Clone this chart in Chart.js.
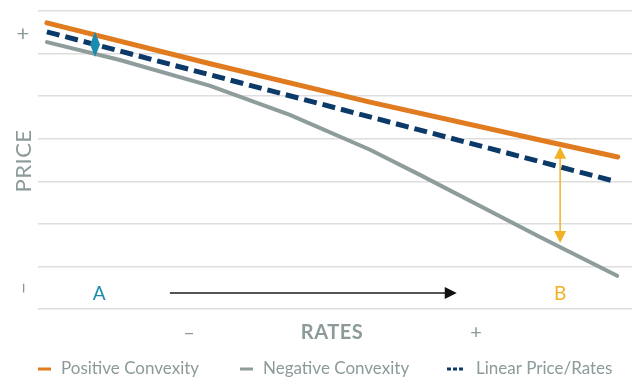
<!DOCTYPE html>
<html>
<head>
<meta charset="utf-8">
<script src="https://cdn.jsdelivr.net/npm/chart.js@4"></script>
<style>
  html, body { margin: 0; padding: 0; background: #fff; }
  #wrap { width: 632px; height: 381px; }
</style>
</head>
<body>
<div id="wrap"><canvas id="convexityChart" width="632" height="381"></canvas></div>
<script>
// rates on a 0-100 scale, price on a 0-7 scale (one unit per grid line)
const positiveX = [1.5, 29, 55.9, 84.5, 97.6];
const positiveY = [6.72, 5.76, 4.86, 3.97, 3.57];
const linearX = [1.5, 96.8];
const linearY = [6.51, 3.01];
const negativeX = [1.5, 13.8, 29, 42.4, 55.9, 64.3, 84.5, 97.5];
const negativeY = [6.27, 5.85, 5.24, 4.56, 3.74, 3.15, 1.69, 0.78];

const seriesNames = ['Positive Convexity', 'Negative Convexity', 'Linear Price/Rates'];
const priceTicks = ['+', '–'];
const rateTicks = ['–', 'RATES', '+'];

// arrow A: x, top, bottom ; arrow B same ; rate arrow: from, to, y
const markerA = [9.6, 6.51, 5.92];
const markerB = [87.9, 3.81, 1.55];
const rateArrow = [22.2, 70.5, 0.376];
const labelA = 10.3;
const labelB = 87.9;

const ORANGE = '#e07b1f';
const NAVY = '#0b3968';
const GREY = '#8e9c9b';
const TEAL = '#1b8bb0';
const GOLD = '#f2b124';
const TEXT = '#8c9a9a';
const FONT = 'Lato, "Open Sans", sans-serif';

const toPoints = (xs, ys) => xs.map((x, i) => ({ x: x, y: ys[i] }));

const annotations = {
    id: 'annotations',
    afterDatasetsDraw(chart) {
        const ctx = chart.ctx;
        const xs = chart.scales.x;
        const ys = chart.scales.y;
        ctx.save();

        // teal diamond (A)
        let px = xs.getPixelForValue(markerA[0]);
        let t = ys.getPixelForValue(markerA[1]);
        let b = ys.getPixelForValue(markerA[2]);
        ctx.fillStyle = TEAL;
        ctx.beginPath();
        ctx.moveTo(px, t);
        ctx.lineTo(px + 5, (t + b) / 2);
        ctx.lineTo(px, b);
        ctx.lineTo(px - 5, (t + b) / 2);
        ctx.closePath();
        ctx.fill();

        // gold double arrow (B)
        px = xs.getPixelForValue(markerB[0]);
        t = ys.getPixelForValue(markerB[1]);
        b = ys.getPixelForValue(markerB[2]);
        ctx.strokeStyle = GOLD;
        ctx.fillStyle = GOLD;
        ctx.lineWidth = 1.5;
        ctx.beginPath();
        ctx.moveTo(px, t + 8);
        ctx.lineTo(px, b - 8);
        ctx.stroke();
        ctx.beginPath();
        ctx.moveTo(px, t);
        ctx.lineTo(px + 6, t + 12);
        ctx.lineTo(px - 6, t + 12);
        ctx.closePath();
        ctx.fill();
        ctx.beginPath();
        ctx.moveTo(px, b);
        ctx.lineTo(px + 6, b - 12);
        ctx.lineTo(px - 6, b - 12);
        ctx.closePath();
        ctx.fill();

        // rate arrow
        const x1 = xs.getPixelForValue(rateArrow[0]);
        const x2 = xs.getPixelForValue(rateArrow[1]);
        const ay = ys.getPixelForValue(rateArrow[2]);
        ctx.strokeStyle = '#555';
        ctx.lineWidth = 2;
        ctx.beginPath();
        ctx.moveTo(x1, ay);
        ctx.lineTo(x2 - 10, ay);
        ctx.stroke();
        ctx.fillStyle = '#111';
        ctx.beginPath();
        ctx.moveTo(x2, ay);
        ctx.lineTo(x2 - 12, ay - 6);
        ctx.lineTo(x2 - 12, ay + 6);
        ctx.closePath();
        ctx.fill();

        // A / B letters
        ctx.font = '19px ' + FONT;
        ctx.textAlign = 'center';
        ctx.textBaseline = 'middle';
        ctx.fillStyle = TEAL;
        ctx.fillText('A', xs.getPixelForValue(labelA), ay + 1);
        ctx.fillStyle = GOLD;
        ctx.fillText('B', xs.getPixelForValue(labelB), ay + 1);

        // price axis
        ctx.fillStyle = TEXT;
        ctx.font = '22px ' + FONT;
        ctx.fillText(priceTicks[0], 23, 34);
        ctx.save();
        ctx.translate(23, 288);
        ctx.rotate(-Math.PI / 2);
        ctx.fillText(priceTicks[1], 0, 0);
        ctx.restore();
        ctx.save();
        ctx.translate(24, 161);
        ctx.rotate(-Math.PI / 2);
        ctx.font = '22px ' + FONT;
        ctx.letterSpacing = '0.5px';
        ctx.fillText('PRICE', 0, 0);
        ctx.restore();

        // rate axis
        ctx.font = '20px ' + FONT;
        ctx.fillText(rateTicks[0], 189, 333);
        ctx.fillText(rateTicks[2], 476, 333);
        ctx.font = 'bold 20px ' + FONT;
        ctx.letterSpacing = '0.5px';
        ctx.fillText(rateTicks[1], 332, 333);
        ctx.letterSpacing = '0px';

        // legend
        ctx.textAlign = 'left';
        ctx.font = '17px ' + FONT;
        const legendY = 369;
        const items = [
            { x: 38, color: ORANGE, dashed: false, name: seriesNames[0] },
            { x: 240, color: GREY, dashed: false, name: seriesNames[1] },
            { x: 447, color: NAVY, dashed: true, name: seriesNames[2] }
        ];
        items.forEach(item => {
            ctx.fillStyle = item.color;
            if (item.dashed) {
                for (let i = 0; i < 3; i++) ctx.fillRect(item.x + i * 6, legendY - 1.5, 4, 3);
            } else {
                ctx.fillRect(item.x, legendY - 1.5, 13, 3);
            }
            ctx.fillStyle = TEXT;
            ctx.fillText(item.name, item.x + (item.dashed ? 29 : 23), legendY);
        });

        ctx.restore();
    }
};

new Chart(document.getElementById('convexityChart'), {
    type: 'line',
    data: {
        datasets: [
            {
                label: seriesNames[0],
                data: toPoints(positiveX, positiveY),
                borderColor: ORANGE,
                borderWidth: 5,
                borderCapStyle: 'round'
            },
            {
                label: seriesNames[1],
                data: toPoints(negativeX, negativeY),
                borderColor: GREY,
                borderWidth: 4,
                borderCapStyle: 'round'
            },
            {
                label: seriesNames[2],
                data: toPoints(linearX, linearY),
                borderColor: NAVY,
                borderWidth: 5,
                borderDash: [13, 6]
            }
        ]
    },
    options: {
        responsive: false,
        animation: false,
        clip: false,
        elements: { point: { radius: 0 }, line: { tension: 0 } },
        layout: { padding: { left: 38, top: 11, right: 0, bottom: 72 } },
        plugins: { legend: { display: false }, tooltip: { enabled: false } },
        scales: {
            x: { type: 'linear', min: 0, max: 100, display: false },
            y: {
                min: 0, max: 7,
                ticks: { display: false, stepSize: 1 },
                border: { display: false },
                grid: { color: '#dedede', lineWidth: 1.5, drawTicks: false }
            }
        }
    },
    plugins: [annotations]
});
</script>
</body>
</html>
